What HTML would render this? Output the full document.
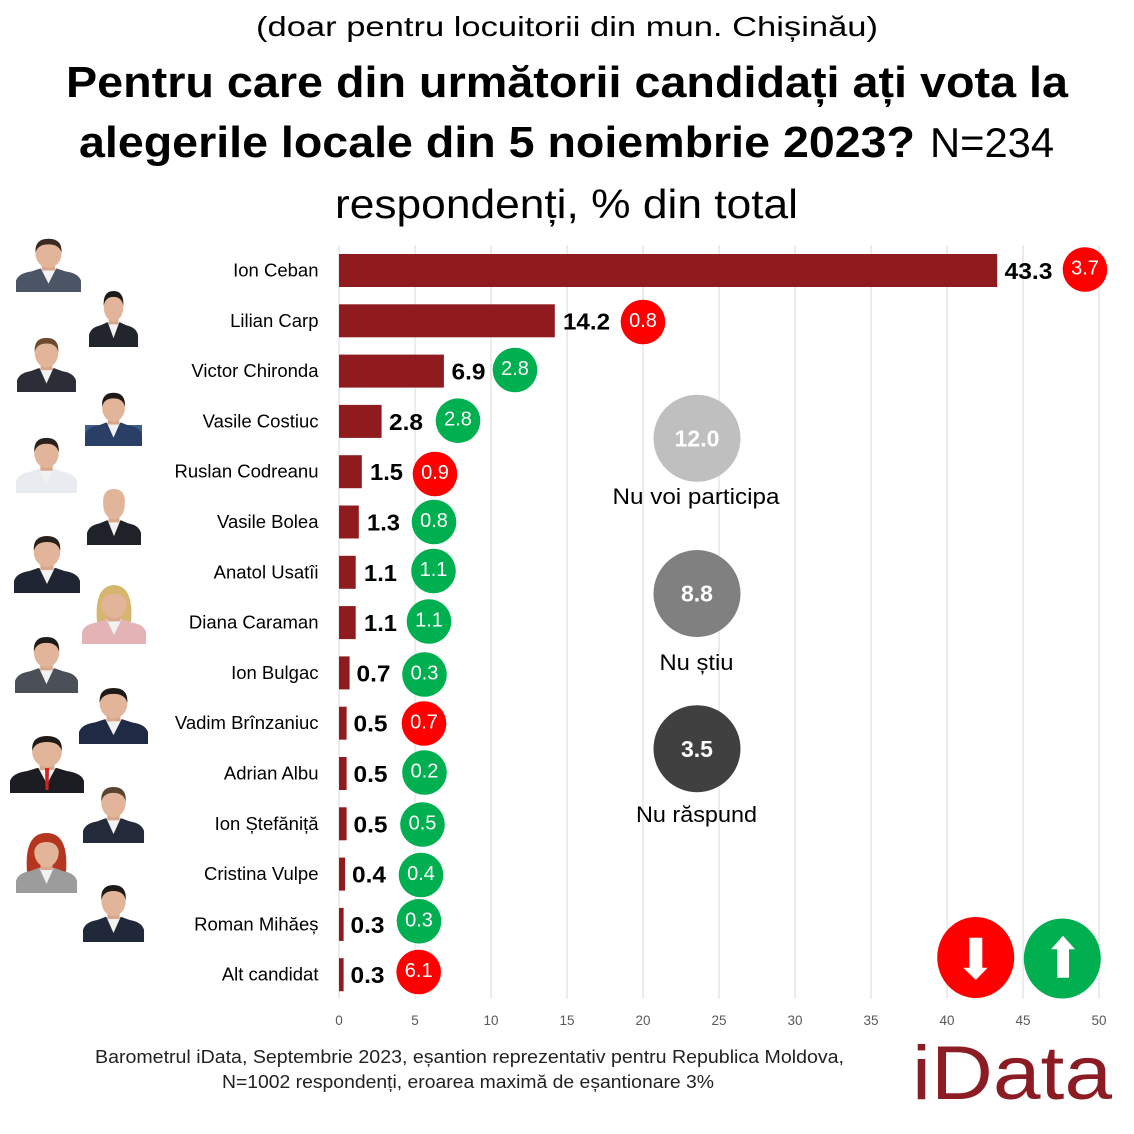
<!DOCTYPE html>
<html>
<head>
<meta charset="utf-8">
<style>
html,body{margin:0;padding:0;background:#fff;}
svg{display:block;}
text{font-family:"Liberation Sans","DejaVu Sans",sans-serif;}
</style>
</head>
<body>
<svg width="1134" height="1134" viewBox="0 0 1134 1134" xmlns="http://www.w3.org/2000/svg">
<defs>
  <g id="person">
    <path d="M0 60 L0 48 Q2 40 14 38 L22 35 L38 35 L46 38 Q58 40 60 48 L60 60 Z"/>
    <path d="M23 35 L30 51 L37 35 Z" fill="#f2f2f2"/>
    <rect x="24" y="28" width="12" height="9" fill="#d9a88c"/>
    <ellipse cx="30" cy="19" rx="12" ry="15" fill="#e2b499"/>
    <path d="M18 18 Q17 3 30 3 Q43 3 42 18 Q40 9 30 9 Q20 9 18 18 Z" fill="currentColor"/>
  </g>
</defs>
<rect width="1134" height="1134" fill="#fff"/>

<!-- Title -->
<text x="256" y="36" font-size="28" textLength="622" lengthAdjust="spacingAndGlyphs" fill="#000">(doar pentru locuitorii din mun. Chișinău)</text>
<text x="66" y="97" font-size="44" font-weight="bold" textLength="1002" lengthAdjust="spacingAndGlyphs" fill="#000">Pentru care din următorii candidați ați vota la</text>
<text x="79" y="157" font-size="44" font-weight="bold" textLength="836" lengthAdjust="spacingAndGlyphs" fill="#000">alegerile locale din 5 noiembrie 2023?</text>
<text x="930" y="157" font-size="42" textLength="124" lengthAdjust="spacingAndGlyphs" fill="#000">N=234</text>
<text x="335" y="218" font-size="41" textLength="463" lengthAdjust="spacingAndGlyphs" fill="#000">respondenți, % din total</text>

<!-- Gridlines -->
<g stroke="#d9d9d9" stroke-width="1">
  <line x1="339" y1="245" x2="339" y2="999"/>
  <line x1="415" y1="245" x2="415" y2="999"/>
  <line x1="491" y1="245" x2="491" y2="999"/>
  <line x1="567" y1="245" x2="567" y2="999"/>
  <line x1="643" y1="245" x2="643" y2="999"/>
  <line x1="719" y1="245" x2="719" y2="999"/>
  <line x1="795" y1="245" x2="795" y2="999"/>
  <line x1="871" y1="245" x2="871" y2="999"/>
  <line x1="947" y1="245" x2="947" y2="999"/>
  <line x1="1023" y1="245" x2="1023" y2="999"/>
  <line x1="1099" y1="245" x2="1099" y2="999"/>
</g>

<!-- Tick labels -->
<g font-size="13.5" fill="#595959" text-anchor="middle">
  <text x="339" y="1025">0</text>
  <text x="415" y="1025">5</text>
  <text x="491" y="1025">10</text>
  <text x="567" y="1025">15</text>
  <text x="643" y="1025">20</text>
  <text x="719" y="1025">25</text>
  <text x="795" y="1025">30</text>
  <text x="871" y="1025">35</text>
  <text x="947" y="1025">40</text>
  <text x="1023" y="1025">45</text>
  <text x="1099" y="1025">50</text>
</g>

<!-- Bars -->
<g fill="#8f1b1f">
  <rect x="339" y="254" width="658.2" height="33"/>
  <rect x="339" y="304.3" width="215.8" height="33"/>
  <rect x="339" y="354.6" width="104.9" height="33"/>
  <rect x="339" y="404.9" width="42.6" height="33"/>
  <rect x="339" y="455.2" width="22.8" height="33"/>
  <rect x="339" y="505.5" width="19.8" height="33"/>
  <rect x="339" y="555.8" width="16.7" height="33"/>
  <rect x="339" y="606.1" width="16.7" height="33"/>
  <rect x="339" y="656.4" width="10.6" height="33"/>
  <rect x="339" y="706.7" width="7.6" height="33"/>
  <rect x="339" y="757" width="7.6" height="33"/>
  <rect x="339" y="807.3" width="7.6" height="33"/>
  <rect x="339" y="857.6" width="6.1" height="33"/>
  <rect x="339" y="907.9" width="4.6" height="33"/>
  <rect x="339" y="958.2" width="4.6" height="33"/>
</g>

<!-- Names -->
<g font-size="18.5" fill="#000" text-anchor="end">
  <text x="318.5" y="276.5">Ion Ceban</text>
  <text x="318.5" y="326.8">Lilian Carp</text>
  <text x="318.5" y="377.1">Victor Chironda</text>
  <text x="318.5" y="427.4">Vasile Costiuc</text>
  <text x="318.5" y="477.7">Ruslan Codreanu</text>
  <text x="318.5" y="528">Vasile Bolea</text>
  <text x="318.5" y="578.3">Anatol Usatîi</text>
  <text x="318.5" y="628.6">Diana Caraman</text>
  <text x="318.5" y="678.9">Ion Bulgac</text>
  <text x="318.5" y="729.2">Vadim Brînzaniuc</text>
  <text x="318.5" y="779.5">Adrian Albu</text>
  <text x="318.5" y="829.8">Ion Ștefăniță</text>
  <text x="318.5" y="880.1">Cristina Vulpe</text>
  <text x="318.5" y="930.4">Roman Mihăeș</text>
  <text x="318.5" y="980.7">Alt candidat</text>
</g>

<!-- Value labels -->
<g font-size="23" font-weight="bold" fill="#000">
  <text x="1004.5" y="279" textLength="48" lengthAdjust="spacingAndGlyphs">43.3</text>
  <text x="563" y="329.3" textLength="47" lengthAdjust="spacingAndGlyphs">14.2</text>
  <text x="451.5" y="379.6" textLength="34" lengthAdjust="spacingAndGlyphs">6.9</text>
  <text x="389" y="429.9" textLength="34" lengthAdjust="spacingAndGlyphs">2.8</text>
  <text x="370" y="480.2" textLength="33" lengthAdjust="spacingAndGlyphs">1.5</text>
  <text x="367" y="530.5" textLength="33" lengthAdjust="spacingAndGlyphs">1.3</text>
  <text x="364" y="580.8" textLength="33" lengthAdjust="spacingAndGlyphs">1.1</text>
  <text x="364" y="631.1" textLength="33" lengthAdjust="spacingAndGlyphs">1.1</text>
  <text x="356.5" y="681.4" textLength="34" lengthAdjust="spacingAndGlyphs">0.7</text>
  <text x="353.5" y="731.7" textLength="34" lengthAdjust="spacingAndGlyphs">0.5</text>
  <text x="353.5" y="782" textLength="34" lengthAdjust="spacingAndGlyphs">0.5</text>
  <text x="353.5" y="832.3" textLength="34" lengthAdjust="spacingAndGlyphs">0.5</text>
  <text x="352" y="882.6" textLength="34" lengthAdjust="spacingAndGlyphs">0.4</text>
  <text x="350.5" y="932.9" textLength="34" lengthAdjust="spacingAndGlyphs">0.3</text>
  <text x="350.5" y="983.2" textLength="34" lengthAdjust="spacingAndGlyphs">0.3</text>
</g>

<!-- Change circles -->
<g>
  <circle cx="1085" cy="269.5" r="22.3" fill="#ff0000"/>
  <circle cx="643" cy="322" r="22.3" fill="#ff0000"/>
  <circle cx="515" cy="370" r="22.3" fill="#00b050"/>
  <circle cx="458" cy="420.7" r="22.3" fill="#00b050"/>
  <circle cx="435" cy="474" r="22.3" fill="#ff0000"/>
  <circle cx="434" cy="522" r="22.3" fill="#00b050"/>
  <circle cx="433.5" cy="571" r="22.3" fill="#00b050"/>
  <circle cx="429" cy="621.5" r="22.3" fill="#00b050"/>
  <circle cx="424.5" cy="674.5" r="22.3" fill="#00b050"/>
  <circle cx="424" cy="723.5" r="22.3" fill="#ff0000"/>
  <circle cx="424.5" cy="772.5" r="22.3" fill="#00b050"/>
  <circle cx="422.5" cy="824.5" r="22.3" fill="#00b050"/>
  <circle cx="421" cy="875" r="22.3" fill="#00b050"/>
  <circle cx="419" cy="921.3" r="22.3" fill="#00b050"/>
  <circle cx="418.7" cy="972" r="22.3" fill="#ff0000"/>
</g>
<g font-size="20" fill="#fff" text-anchor="middle">
  <text x="1085" y="274.5">3.7</text>
  <text x="643" y="327">0.8</text>
  <text x="515" y="375">2.8</text>
  <text x="458" y="425.7">2.8</text>
  <text x="435" y="479">0.9</text>
  <text x="434" y="527">0.8</text>
  <text x="433.5" y="576">1.1</text>
  <text x="429" y="626.5">1.1</text>
  <text x="424.5" y="679.5">0.3</text>
  <text x="424" y="728.5">0.7</text>
  <text x="424.5" y="777.5">0.2</text>
  <text x="422.5" y="829.5">0.5</text>
  <text x="421" y="880">0.4</text>
  <text x="419" y="926.3">0.3</text>
  <text x="418.7" y="977">6.1</text>
</g>

<!-- Gray circles -->
<circle cx="697" cy="438.3" r="43.5" fill="#bfbfbf"/>
<circle cx="697" cy="593.5" r="43.5" fill="#808080"/>
<circle cx="697" cy="748.7" r="43.5" fill="#404040"/>
<g font-size="23" font-weight="bold" fill="#fff" text-anchor="middle">
  <text x="697" y="446.5">12.0</text>
  <text x="697" y="601.7">8.8</text>
  <text x="697" y="756.9">3.5</text>
</g>
<g font-size="22.5" fill="#000">
  <text x="612.5" y="504" textLength="167" lengthAdjust="spacingAndGlyphs">Nu voi participa</text>
  <text x="659.5" y="670" textLength="74" lengthAdjust="spacingAndGlyphs">Nu știu</text>
  <text x="636" y="822" textLength="121" lengthAdjust="spacingAndGlyphs">Nu răspund</text>
</g>

<!-- Arrow icons -->
<ellipse cx="975.7" cy="957.5" rx="38.5" ry="40.5" fill="#ff0000"/>
<ellipse cx="1062.3" cy="958.5" rx="38.5" ry="40" fill="#00b050"/>
<polygon points="969.3,937.7 982.3,937.7 982.3,967.7 987.7,967.7 975.8,980 963.3,967.7 969.3,967.7" fill="#fff"/>
<polygon points="1063,935.7 1075,949.3 1069,949.3 1069,977.7 1057.3,977.7 1057.3,949.3 1051,949.3" fill="#fff"/>

<!-- Footer -->
<g font-size="18" fill="#222">
  <text x="95" y="1063" textLength="749" lengthAdjust="spacingAndGlyphs">Barometrul iData, Septembrie 2023, eșantion reprezentativ pentru Republica Moldova,</text>
  <text x="222" y="1088" textLength="492" lengthAdjust="spacingAndGlyphs">N=1002 respondenți, eroarea maximă de eșantionare 3%</text>
</g>
<text x="912" y="1099" font-size="76" fill="#8b1c23" textLength="200" lengthAdjust="spacingAndGlyphs">iData</text>

<!-- Photos (placeholders) -->
<g>
  <g transform="translate(16,236) scale(1.083,0.933)" fill="#4b5566" color="#3a2a22"><use href="#person"/></g>

  <g transform="translate(89,288) scale(0.817,0.983)" fill="#22252d" color="#1e1a18"><use href="#person"/></g>

  <g transform="translate(17,335) scale(0.983,0.95)" fill="#2b2e36" color="#6b4a2f"><use href="#person"/></g>

  <rect x="85" y="425" width="57" height="21" fill="#3d5d8f"/>
  <g transform="translate(85,390) scale(0.95,0.933)" fill="#2a3f66" color="#1e1a18"><use href="#person"/></g>

  <g transform="translate(16,435) scale(1.017,0.967)" fill="#e8ebf0" color="#2a211c"><use href="#person"/></g>

  <g transform="translate(87,486) scale(0.9,0.983)" fill="#1f2228" color="#e2b499"><use href="#person"/></g>

  <g transform="translate(14,533) scale(1.1,1)" fill="#1f2533" color="#2a211c"><use href="#person"/></g>

  <path d="M97 622 Q94 586 114 585 Q134 586 131 622 Z" fill="#d6b56e"/>
  <g transform="translate(82,585) scale(1.067,0.983)" fill="#e3b3b6" color="#d6b56e"><use href="#person"/></g>

  <g transform="translate(15,634) scale(1.05,0.983)" fill="#4a4f58" color="#1e1a18"><use href="#person"/></g>

  <g transform="translate(79,685) scale(1.15,0.983)" fill="#1f2a44" color="#1e1a18"><use href="#person"/></g>

  <g transform="translate(10,733) scale(1.233,1)" fill="#1b1d22" color="#1e1a18"><use href="#person"/></g>
  <path d="M45 768 L49 768 L48.5 790 L45.5 790Z" fill="#d92020"/>

  <g transform="translate(83,784) scale(1.017,0.983)" fill="#232a3a" color="#5a4330"><use href="#person"/></g>

  <path d="M27 872 Q24 833 46.5 833 Q69 833 66 872 Z" fill="#b5361f"/>
  <g transform="translate(16,833) scale(1.017,1)" fill="#9c9c9c" color="#b5361f"><use href="#person"/></g>

  <g transform="translate(83,882) scale(1.017,1)" fill="#20283a" color="#1e1a18"><use href="#person"/></g>
</g>
</svg>
</body>
</html>
